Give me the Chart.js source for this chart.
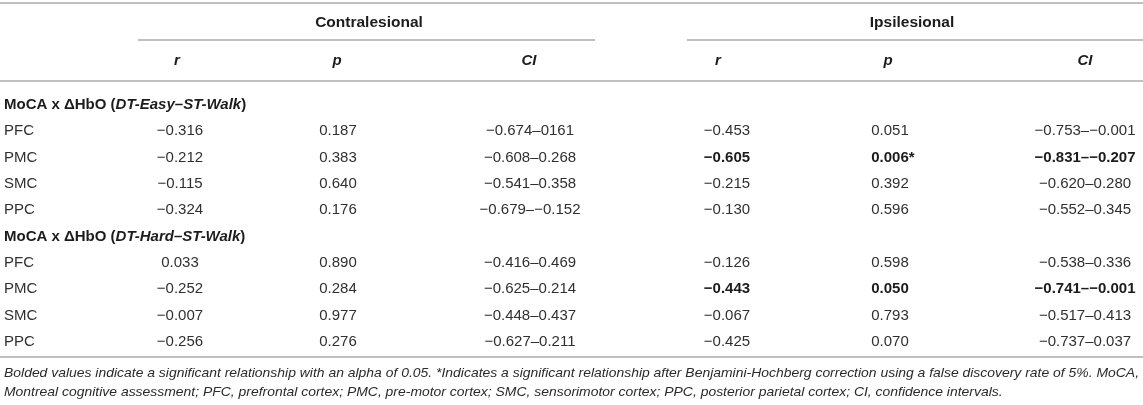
<!DOCTYPE html>
<html>
<head>
<meta charset="utf-8">
<script src="https://cdn.jsdelivr.net/npm/chart.js@4.4.0/dist/chart.umd.min.js"></script>
<style>
html,body{margin:0;padding:0;background:#fff;}
#wrap{width:1143px;height:405px;position:relative;}
</style>
</head>
<body>
<div id="wrap"><canvas id="canvas"></canvas></div>
<script>
// table content
var regions = ['PFC', 'PMC', 'SMC', 'PPC'];
var groups = ['DT-Easy–ST-Walk', 'DT-Hard–ST-Walk'];
var sides = ['Contralesional', 'Ipsilesional'];
var statHeads = ['r', 'p', 'CI'];

var easyContraR = [-0.316, -0.212, -0.115, -0.324];
var easyContraP = [0.187, 0.383, 0.640, 0.176];
var easyContraCI = ['−0.674–0161', '−0.608–0.268', '−0.541–0.358', '−0.679–−0.152'];
var easyIpsiR = [-0.453, -0.605, -0.215, -0.130];
var easyIpsiP = [0.051, 0.006, 0.392, 0.596];
var easyIpsiCI = ['−0.753–−0.001', '−0.831–−0.207', '−0.620–0.280', '−0.552–0.345'];
var easyIpsiStar = [false, true, false, false];

var hardContraR = [0.033, -0.252, -0.007, -0.256];
var hardContraP = [0.890, 0.284, 0.977, 0.276];
var hardContraCI = ['−0.416–0.469', '−0.625–0.214', '−0.448–0.437', '−0.627–0.211'];
var hardIpsiR = [-0.126, -0.443, -0.067, -0.425];
var hardIpsiP = [0.598, 0.050, 0.793, 0.070];
var hardIpsiCI = ['−0.538–0.336', '−0.741–−0.001', '−0.517–0.413', '−0.737–0.037'];
var hardIpsiStar = [false, false, false, false];

var alpha = 0.05;

var footnote = [
  'Bolded values indicate a significant relationship with an alpha of 0.05. *Indicates a significant relationship after Benjamini-Hochberg correction using a false discovery rate of 5%. MoCA,',
  'Montreal cognitive assessment; PFC, prefrontal cortex; PMC, pre-motor cortex; SMC, sensorimotor cortex; PPC, posterior parietal cortex; CI, confidence intervals.'
];

// layout (x in px units of the x scale, y in row units of the y scale)
var colX = [180, 338, 530, 727, 890, 1085];
var headX = [177, 337, 529, 718, 888, 1085];
var sideX = [369, 912];
var sideRule = [[138, 595], [687, 1143]];
var rows = {side: -3.114, head: -1.671, ruleTop: -3.874, ruleSide: -2.469, ruleHead: -0.912, ruleBottom: 9.571, foot1: 10.178, foot2: 10.9};
var FONT = '"Liberation Sans", Arial, Helvetica, sans-serif';
var INK = '#1c1c1c';
var INK_LIGHT = '#303030';
var RULE = '#ababab';

var fmt = function(v) {
  return (v < 0 ? '−' : '') + Math.abs(v).toFixed(3);};

// one dataset per column, one point per table cell
var columns = [
  {r: [easyContraR, hardContraR], p: [easyContraP, hardContraP], ci: [easyContraCI, hardContraCI], star: [[false,false,false,false],[false,false,false,false]]},
  {r: [easyIpsiR, hardIpsiR], p: [easyIpsiP, hardIpsiP], ci: [easyIpsiCI, hardIpsiCI], star: [easyIpsiStar, hardIpsiStar]}
];
var datasets = [];
columns.forEach(function(side, s) {
  ['r', 'p', 'ci'].forEach(function(key, k) {
    var ds = {label: sides[s] + ' ' + statHeads[k], data: [], texts: [], bold: [], star: [], pointRadius: 0};
    for (var g = 0; g < 2; g++) {
      for (var j = 0; j < regions.length; j++) {
        var val = side[key][g][j];
        ds.data.push({x: colX[s * 3 + k], y: g * 5 + 1 + j});
        ds.texts.push(key === 'ci' ? val : key === 'r' ? fmt(val) : val.toFixed(3));
        ds.bold.push(side.p[g][j] <= alpha);
        ds.star.push(key === 'p' && side.star[g][j]);
      }
    }
    datasets.push(ds);
  });
});

var tablePlugin = {
  id: 'table',
  afterDatasetsDraw: function(chart) {
    var ctx = chart.ctx, xs = chart.scales.x, ys = chart.scales.y;
    var X = function(v) { return xs.getPixelForValue(v); };
    var Y = function(v) { return ys.getPixelForValue(v); };
    ctx.save();
    ctx.strokeStyle = RULE;
    ctx.lineWidth = 1.6;
    var hline = function(a, b, yv) {
      ctx.beginPath(); ctx.moveTo(X(a), Y(yv)); ctx.lineTo(X(b), Y(yv)); ctx.stroke();};
    hline(0, 1143, rows.ruleTop);
    hline(sideRule[0][0], sideRule[0][1], rows.ruleSide);
    hline(sideRule[1][0], sideRule[1][1], rows.ruleSide);
    hline(0, 1143, rows.ruleHead);
    hline(0, 1143, rows.ruleBottom);

    ctx.fillStyle = INK;
    ctx.textBaseline = 'middle';
    ctx.textAlign = 'center';
    ctx.font = 'bold 15.5px ' + FONT;
    sides.forEach(function(t, i) { ctx.fillText(t, X(sideX[i]), Y(rows.side)); });
    ctx.font = 'italic bold 15px ' + FONT;
    headX.forEach(function(hx, i) { ctx.fillText(statHeads[i % 3], X(hx), Y(rows.head)); });

    // group headers and row labels
    ctx.textAlign = 'left';
    groups.forEach(function(gname, g) {
      var x = X(4), y = Y(g * 5);
      var parts = [['MoCA x ΔHbO (', 'bold'], [gname, 'italic bold'], [')', 'bold']];
      ctx.fillStyle = INK;
      parts.forEach(function(p) {
        ctx.font = p[1] + ' 15px ' + FONT;
        ctx.fillText(p[0], x, y);
        x += ctx.measureText(p[0]).width;
      });
      ctx.font = '15px ' + FONT;
      ctx.fillStyle = INK_LIGHT;
      regions.forEach(function(r, j) { ctx.fillText(r, X(4), Y(g * 5 + 1 + j)); });
    });

    // cells
    ctx.textAlign = 'center';
    chart.data.datasets.forEach(function(ds, i) {
      var meta = chart.getDatasetMeta(i);
      meta.data.forEach(function(pt, j) {
        ctx.font = (ds.bold[j] ? 'bold ' : '') + '15px ' + FONT;
        ctx.fillStyle = ds.bold[j] ? INK : INK_LIGHT;
        ctx.fillText(ds.texts[j], pt.x, pt.y);
        if (ds.star[j]) {
          var w = ctx.measureText(ds.texts[j]).width;
          ctx.textAlign = 'left';
          ctx.fillText('*', pt.x + w / 2, pt.y);
          ctx.textAlign = 'center';
        }
      });
    });

    // footnote, squeezed to the width of the original
    ctx.textAlign = 'left';
    ctx.fillStyle = '#2a2a2a';
    ctx.font = 'italic 13px ' + FONT;
    var sx = (X(1139) - X(4)) / ctx.measureText(footnote[0]).width;
    [rows.foot1, rows.foot2].forEach(function(rv, i) {
      ctx.save();
      ctx.translate(X(4), Y(rv));
      ctx.scale(Math.min(sx, 1.1), 1);
      ctx.fillText(footnote[i], 0, 0);
      ctx.restore();
    });
    ctx.restore();
  }
};

var config = {
  type: 'scatter',
  data: {datasets: datasets},
  options: {
    responsive: true,
    maintainAspectRatio: false,
    animation: false,
    layout: {padding: 0},
    plugins: {legend: {display: false}, tooltip: {enabled: false}},
    scales: {
      x: {type: 'linear', display: false, min: 0, max: 1143},
      y: {type: 'linear', display: false, reverse: true, min: -3.988, max: 11.394}
    }
  },
  plugins: [tablePlugin]
};
window.onload = function() {
  window.myTable = new Chart(document.getElementById('canvas'), config);};
</script>
</body>
</html>
